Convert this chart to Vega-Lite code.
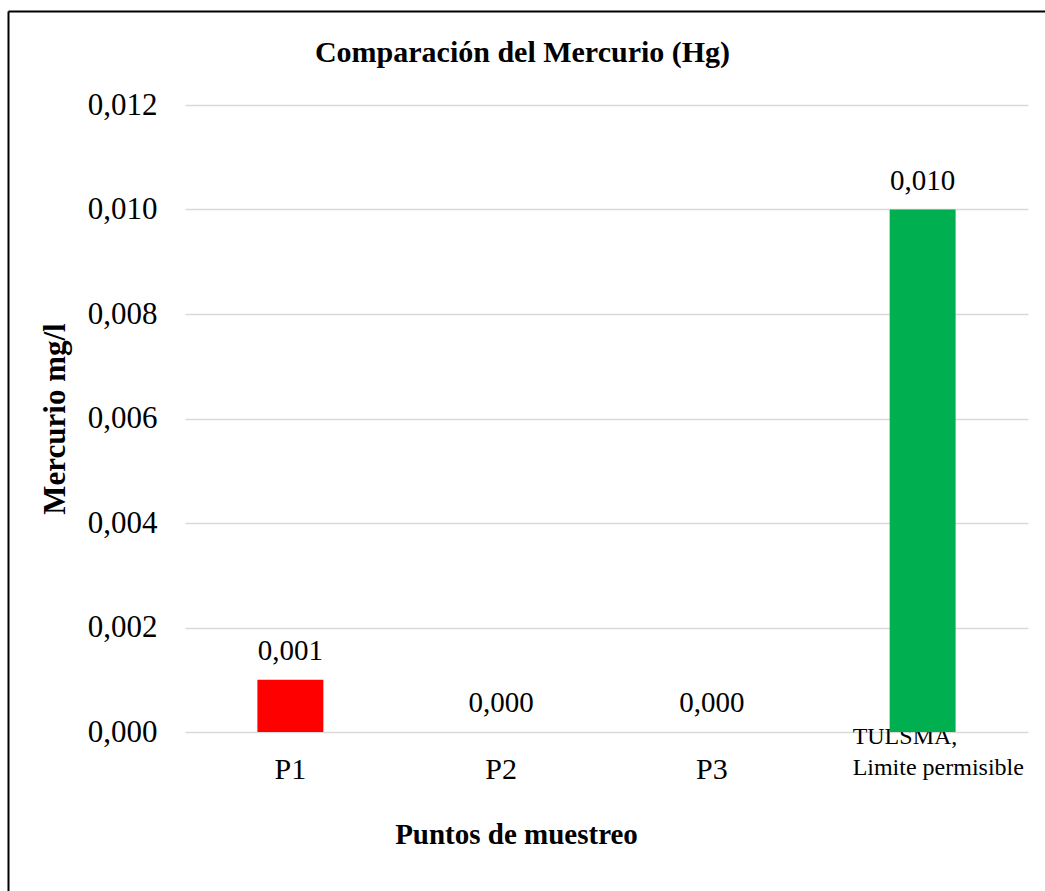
{
  "$schema": "https://vega.github.io/schema/vega-lite/v6.json",
  "width": 843,
  "height": 627,
  "autosize": {"type": "none"},
  "padding": {"left": 185, "top": 105, "right": 17, "bottom": 159},
  "background": "white",
  "config": {
    "locale": {"number": {"decimal": ",", "thousands": ".", "grouping": [3], "currency": ["$", ""]}},
    "font": "Liberation Serif",
    "view": {"stroke": null}
  },
  "title": {
    "text": "Comparación del Mercurio (Hg)",
    "fontSize": 30,
    "fontWeight": "bold",
    "font": "Liberation Serif",
    "color": "black",
    "anchor": "middle",
    "frame": "group",
    "baseline": "alphabetic",
    "dx": -84,
    "offset": -81
  },
  "data": {
    "values": [
      {"punto": "P1", "mercurio": 0.001},
      {"punto": "P2", "mercurio": 0.0},
      {"punto": "P3", "mercurio": 0.0},
      {"punto": "TULSMA, Limite permisible", "mercurio": 0.01}
    ]
  },
  "resolve": {"scale": {"x": "independent", "y": "independent"}, "axis": {"x": "independent", "y": "independent"}},
  "layer": [
    {
      "layer": [
        {
          "mark": {"type": "bar"},
          "encoding": {
            "x": {
              "field": "punto",
              "type": "nominal",
              "sort": null,
              "scale": {"paddingInner": 0.687, "paddingOuter": 0.3435},
              "axis": {
                "title": "Puntos de muestreo",
                "titleFont": "Liberation Serif",
                "titleFontSize": 29,
                "titleFontWeight": "bold",
                "titleColor": "black",
                "titleX": 331,
                "titleY": 111,
                "titleBaseline": "alphabetic",
                "labelAngle": 0,
                "labelFont": "Liberation Serif",
                "labelColor": "black",
                "labelBaseline": "alphabetic",
                "labelLimit": 0,
                "labelLineHeight": 31,
                "labelFontSize": {"condition": {"test": "datum.value == 'TULSMA, Limite permisible'", "value": 24}, "value": 30},
                "labelAlign": {"condition": {"test": "datum.value == 'TULSMA, Limite permisible'", "value": "left"}, "value": "center"},
                "labelOffset": {"condition": {"test": "datum.value == 'TULSMA, Limite permisible'", "value": -70}, "value": 0},
                "labelPadding": {"condition": {"test": "datum.value == 'TULSMA, Limite permisible'", "value": 11}, "value": 46},
                "labelExpr": "datum.value == 'TULSMA, Limite permisible' ? ['TULSMA,', 'Limite permisible'] : datum.label",
                "ticks": false,
                "tickSize": 0,
                "domain": false,
                "grid": false
              }
            },
            "y": {
              "field": "mercurio",
              "type": "quantitative",
              "scale": {"domain": [0, 0.012]},
              "axis": {
                "title": "Mercurio mg/l",
                "titleFont": "Liberation Serif",
                "titleFontSize": 31,
                "titleFontWeight": "bold",
                "titleColor": "black",
                "titlePadding": 16,
                "values": [0, 0.002, 0.004, 0.006, 0.008, 0.01, 0.012],
                "format": ".3f",
                "labelFont": "Liberation Serif",
                "labelFontSize": 31,
                "labelColor": "black",
                "labelPadding": 28,
                "ticks": false,
                "tickSize": 0,
                "domain": false,
                "grid": true,
                "gridColor": "#d9d9d9",
                "gridWidth": 1.5
              }
            },
            "color": {
              "field": "punto",
              "type": "nominal",
              "sort": null,
              "scale": {"domain": ["P1", "P2", "P3", "TULSMA, Limite permisible"], "range": ["#ff0000", "#ff0000", "#ff0000", "#00b050"]},
              "legend": null
            }
          }
        },
        {
          "mark": {"type": "text", "baseline": "alphabetic", "dy": -20, "fontSize": 29, "font": "Liberation Serif", "color": "black"},
          "encoding": {
            "x": {"field": "punto", "type": "nominal", "sort": null},
            "y": {"field": "mercurio", "type": "quantitative"},
            "text": {"field": "mercurio", "type": "quantitative", "format": ".3f"}
          }
        }
      ]
    },
    {
      "mark": {"type": "point", "opacity": 0},
      "encoding": {
        "x": {
          "field": "mercurio",
          "type": "quantitative",
          "scale": {"domain": [0, 1], "range": [-177, 860], "nice": false},
          "axis": {"orient": "top", "offset": 94, "labels": false, "ticks": false, "grid": false, "title": null, "domainColor": "black", "domainWidth": 2}
        },
        "y": {
          "field": "mercurio",
          "type": "quantitative",
          "scale": {"domain": [0, 1], "range": [786, -94], "nice": false},
          "axis": {"orient": "left", "offset": 177, "labels": false, "ticks": false, "grid": false, "title": null, "domainColor": "black", "domainWidth": 2}
        }
      }
    }
  ]
}
